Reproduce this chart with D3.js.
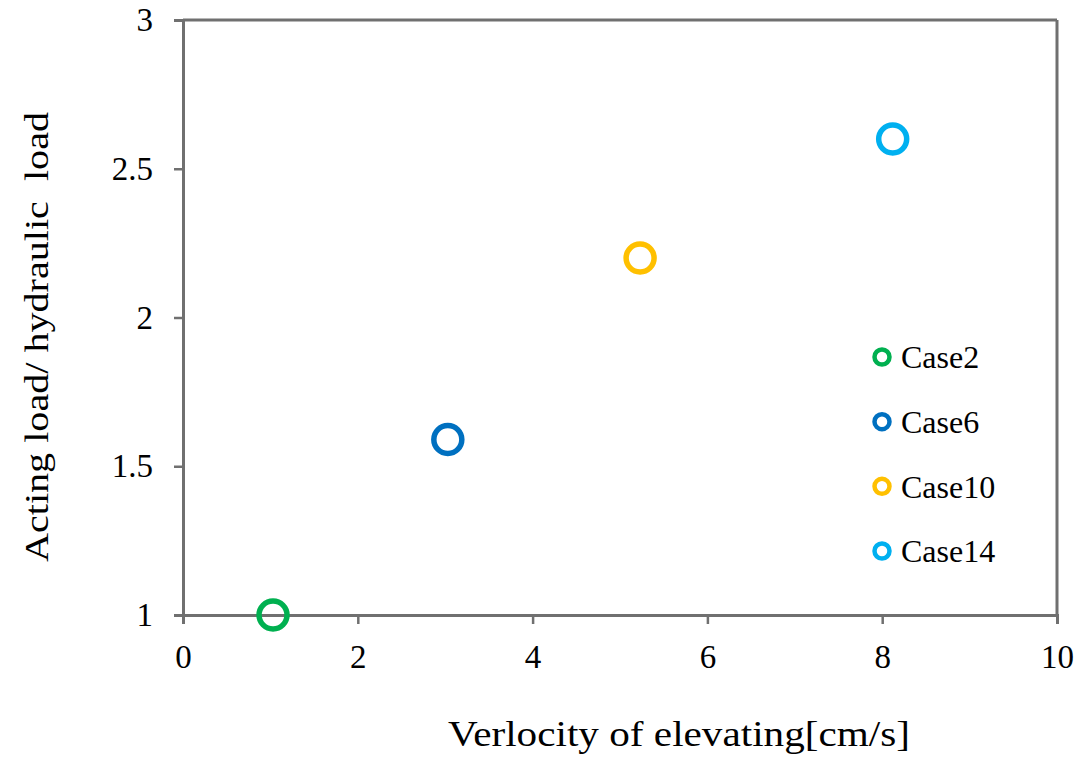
<!DOCTYPE html>
<html>
<head>
<meta charset="utf-8">
<script src="https://cdn.jsdelivr.net/npm/d3@7"></script>
<style>
  html, body { margin: 0; padding: 0; background: #fff; }
  svg { display: block; }
</style>
</head>
<body>
<svg id="chart" width="1079" height="758"></svg>
<script>
// ---- data ----
const cases = ["Case2", "Case6", "Case10", "Case14"];
const velocity = [1.03, 3.03, 5.23, 8.12];
const loadRatio = [1.0, 1.59, 2.2, 2.6];
const colors = ["#00b050", "#0070c0", "#ffc000", "#00b0f0"];
const xTicks = [0, 2, 4, 6, 8, 10];
const yTicks = [1, 1.5, 2, 2.5, 3];
const yTickLabels = ["1", "1.5", "2", "2.5", "3"];

const FONT = "'Liberation Serif', 'Times New Roman', serif";
const svg = d3.select("#chart");
const W = 1079, H = 758;
const margin = { left: 183, top: 20, right: W - 1057, bottom: H - 615 };

const x = d3.scaleLinear().domain([0, 10]).range([margin.left, W - margin.right]);
const y = d3.scaleLinear().domain([1, 3]).range([H - margin.bottom, margin.top]);

const axisColor = "#707070";

// frame (top & right)
svg.append("line").attr("x1", x(0)).attr("x2", x(10)).attr("y1", y(3)).attr("y2", y(3))
  .attr("stroke", axisColor).attr("stroke-width", 3);
svg.append("line").attr("x1", x(10)).attr("x2", x(10)).attr("y1", y(3)).attr("y2", y(1))
  .attr("stroke", axisColor).attr("stroke-width", 3);

// x axis
const gx = svg.append("g").attr("transform", `translate(0,${y(1)})`)
  .call(d3.axisBottom(x).tickValues(xTicks).tickSize(9).tickPadding(21).tickFormat(d3.format("d")));
gx.attr("font-family", FONT).attr("font-size", 33);
gx.select(".domain").attr("stroke", axisColor).attr("stroke-width", 3);
gx.selectAll(".tick line").attr("stroke", axisColor).attr("stroke-width", 2.5);
gx.selectAll(".tick text").attr("fill", "#000");

// y axis
const gy = svg.append("g").attr("transform", `translate(${x(0)},0)`)
  .call(d3.axisLeft(y).tickValues(yTicks).tickSize(9).tickPadding(21)
    .tickFormat((d, i) => yTickLabels[i]));
gy.attr("font-family", FONT).attr("font-size", 33);
gy.select(".domain").attr("stroke", axisColor).attr("stroke-width", 3);
gy.selectAll(".tick line").attr("stroke", axisColor).attr("stroke-width", 2.5);
gy.selectAll(".tick text").attr("fill", "#000");

// points
svg.append("g").selectAll("circle").data(cases).join("circle")
  .attr("cx", (d, i) => x(velocity[i]))
  .attr("cy", (d, i) => y(loadRatio[i]))
  .attr("r", 14)
  .attr("fill", "none")
  .attr("stroke", (d, i) => colors[i])
  .attr("stroke-width", 5.5);

// legend
const legY = d3.scalePoint().domain(cases).range([357, 551]);
const leg = svg.append("g").selectAll("g").data(cases).join("g")
  .attr("transform", d => `translate(882,${legY(d)})`);
leg.append("circle").attr("r", 7.5).attr("fill", "none")
  .attr("stroke", (d, i) => colors[i]).attr("stroke-width", 4.5);
leg.append("text").attr("x", 19).attr("dy", "0.35em")
  .attr("font-family", FONT).attr("font-size", 32).attr("fill", "#000").text(d => d);

// axis titles
svg.append("text").attr("x", 679).attr("y", 746).attr("text-anchor", "middle")
  .attr("font-family", FONT).attr("font-size", 36).attr("fill", "#000")
  .attr("textLength", 462).attr("lengthAdjust", "spacingAndGlyphs")
  .text("Verlocity of elevating[cm/s]");

svg.append("text").attr("transform", "translate(48,337) rotate(-90)")
  .attr("text-anchor", "middle")
  .attr("font-family", FONT).attr("font-size", 34).attr("fill", "#000")
  .attr("textLength", 450).attr("lengthAdjust", "spacingAndGlyphs")
  .attr("xml:space", "preserve")
  .text("Acting load/ hydraulic  load");
</script>
</body>
</html>
